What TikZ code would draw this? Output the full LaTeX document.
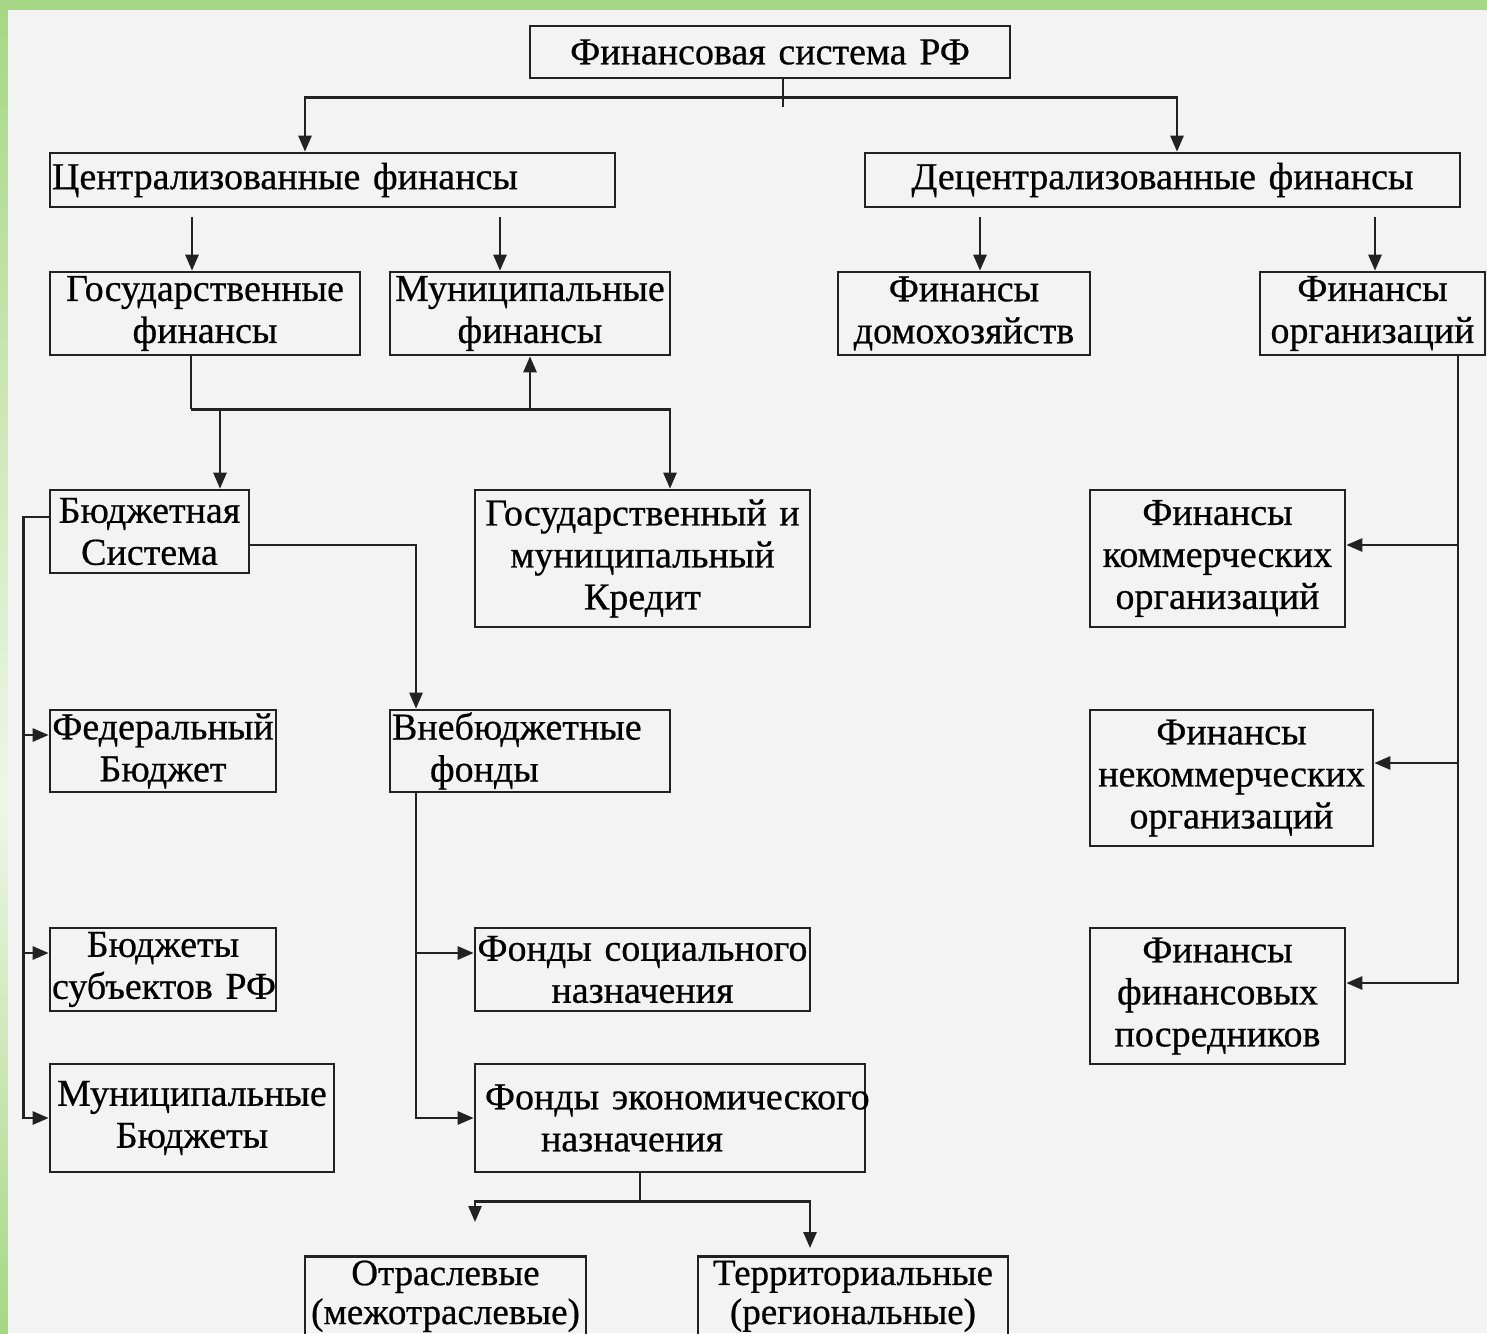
\documentclass[tikz,border=0pt]{standalone}
\usepackage{fontspec}
\setmainfont{Liberation Serif}[UprightFeatures={FakeBold=0.6},WordSpace=0.6]
\usetikzlibrary{arrows.meta}
\definecolor{net}{HTML}{222222}
\definecolor{nen}{HTML}{F3F3F3}
\definecolor{vien}{HTML}{A6D784}
\definecolor{vienmo}{HTML}{EEF7E6}

\begin{document}
\begin{tikzpicture}[x=1pt,y=-1pt]
	\tikzset{
		every node/.style={font=\fontsize{38}{42}\selectfont},
		% khung
		khung/.style={draw=net,line width=2.6pt,rectangle,inner xsep=2pt,inner ysep=0pt,align=center},
		% duong
		day/.style={draw=net,line width=2.6pt},
		% mui ten
		muiten/.style={day,-{Triangle[length=16pt,width=13pt]}},
	}
	%
	\clip (0,0) rectangle (1487,1333);
	\fill[vien] (0,0) rectangle (1487,1333);
	\shade[top color=vien,bottom color=vienmo] (0,0) rectangle (8,800);
	\shade[top color=vienmo,bottom color=vien] (0,800) rectangle (8,1333);
	\fill[nen] (8,10) rectangle (1487,1333);
	%
	\node[khung,text width=476pt,minimum height=52pt] (fs) at (770,52) {Финансовая система РФ};
	\node[khung,text width=561pt,minimum height=54pt,align=left] (centr) at (332.5,180) {Централизованные финансы};
	\node[khung,text width=591pt,minimum height=54pt] (decentr) at (1162.5,180) {Децентрализованные финансы};
	% 
	\node[khung,text width=306pt,minimum height=83pt] (gosfin) at (205,313.5) {Государственные\\финансы};
	\node[khung,text width=276pt,minimum height=83pt] (munfin) at (530,313.5) {Муниципальные\\финансы};
	\node[khung,text width=248pt,minimum height=83pt] (domhoz) at (964,313.5) {Финансы\\домохозяйств};
	\node[khung,text width=221pt,minimum height=83pt] (org) at (1372.5,313.5) {Финансы\\организаций};
	% 
	\node[khung,text width=195pt,minimum height=83pt] (budsys) at (149.5,531.5) {Бюджетная\\Система};
	\node[khung,text width=331pt,minimum height=137pt] (kredit) at (642.5,558.5) {Государственный~и\\муниципальный\\Кредит};
	\node[khung,text width=251pt,minimum height=137pt] (komorg) at (1217.5,558.5) {Финансы\\коммерческих\\организаций};
	\node[khung,text width=222pt,minimum height=82pt] (federal) at (163,751) {Федеральный\\Бюджет};
	\node[khung,text width=276pt,minimum height=82pt,align=left] (vnebud) at (530,751) {Внебюджетные\\\hspace*{38pt}фонды};
	\node[khung,text width=279pt,minimum height=136pt] (nekom) at (1231.5,778) {Финансы\\некоммерческих\\организаций};
	\node[khung,text width=222pt,minimum height=83pt] (subekt) at (163,969.5) {Бюджеты\\субъектов~РФ};
	\node[khung,text width=331pt,minimum height=83pt] (socfond) at (642.5,969.5) {Фонды~социального\\назначения};
	\node[khung,text width=251pt,minimum height=136pt] (finpos) at (1217.5,996) {Финансы\\финансовых\\посредников};
	\node[khung,text width=280pt,minimum height=108pt] (munbud) at (192,1118) {Муниципальные\\Бюджеты};
	\node[khung,text width=386pt,minimum height=108pt,align=left] (ekfond) at (670,1118) {\hspace*{8pt}Фонды~экономического\\\hspace*{64pt}назначения};
	\node[khung,text width=277pt,minimum height=80pt,anchor=north,font=\fontsize{37}{39}\selectfont] (otrasl) at (445.5,1255) {Отраслевые\\(межотраслевые)};
	\node[khung,text width=306pt,minimum height=80pt,anchor=north,font=\fontsize{37}{39}\selectfont] (terr) at (853,1255) {Территориальные\\(региональные)};
	%
	\coordinate (khop) at ([xshift=13,yshift=-18]fs.south);
	\draw[day] ([xshift=13]fs.south) -- ([yshift=-10]khop);
	\draw[muiten] (khop) -| ([xshift=-27.5]centr.north);
	\draw[muiten] (khop) -| ([xshift=14.5]decentr.north);
	\foreach \n/\d in {gosfin/-13,munfin/-30,domhoz/16,org/2.5}
		\draw[muiten] ([xshift=\d,yshift=54]\n.north) -- ([xshift=\d]\n.north);
	%
	\coordinate (re) at ([xshift=-14,yshift=-53]gosfin.south);
	\coordinate (bs) at ([xshift=70.5]budsys.north);
	\draw[day] ([xshift=-14]gosfin.south) -- (re);
	\draw[muiten] (re) -| ([xshift=27.5]kredit.north);
	\draw[muiten] (re -| munfin.south) -- (munfin.south);
	\draw[muiten] (re -| bs) -- (bs);
	% Бюджетная система
	\coordinate (trai) at ([xshift=-25,yshift=14.5]budsys.west);
	\draw[muiten] ([yshift=14.5]budsys.west) -- (trai) |- (munbud.west);
	\foreach \n/\d in {federal/16,subekt/16.5}{
		\coordinate (t) at ([yshift=\d]\n.west);
		\draw[muiten] (trai |- t) -- (t);
	}
	\draw[muiten] ([yshift=-13.5]budsys.east) -| ([xshift=-114]vnebud.north);
	% Внебюджетные фонды
	\coordinate (vb) at ([xshift=-114]vnebud.south);
	\coordinate (sf) at ([yshift=16.5]socfond.west);
	\draw[muiten] (vb) |- (ekfond.west);
	\draw[muiten] (vb |- sf) -- (sf);
	\coordinate (ek) at ([xshift=-30,yshift=-28]ekfond.south);
	\draw[day] ([xshift=-30]ekfond.south) -- (ek);
	\draw[muiten] (ek) -| ([xshift=29.5,yshift=33]otrasl.north);
	\draw[muiten] (ek) -| ([xshift=-43,yshift=7]terr.north);
	% Финансы организаций
	\coordinate (op) at ([xshift=85.5]org.south);
	\draw[muiten] (op) |- ([yshift=13]finpos.east);
	\foreach \n/\d in {komorg/13.5,nekom/15}{
		\coordinate (t) at ([yshift=\d]\n.east);
		\draw[muiten] (op |- t) -- (t);
	}
\end{tikzpicture}
\end{document}
